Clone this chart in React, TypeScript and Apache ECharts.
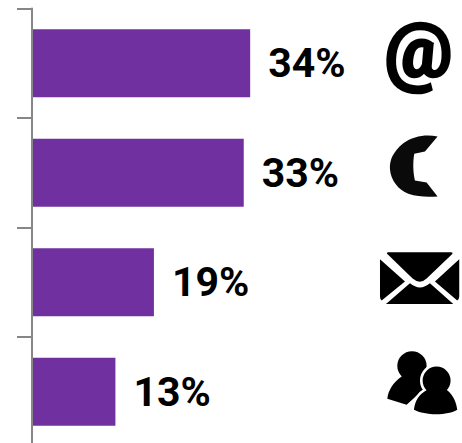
import React, { useEffect, useRef } from "react";
import * as echarts from "echarts";

const categories = ["Email", "Phone", "Mail", "In person"];
const shares = [34, 33, 19, 13];

const LABEL_FONT = 'Roboto, sans-serif';
const INK = "#000000";

// Icon outlines, drawn on a 3x local grid and scaled down when placed.
const PHONE_PATH =
  "M203 380 C170 372 130 378 100 400 C70 425 58 450 60 478 C62 510 85 540 115 552 C145 562 175 562 203 560 L170 518 L135 512 C130 490 128 460 133 432 L165 425 Z";
const ENVELOPE_PATH =
  "M55 67 L243 67 Q250 68 247 72 L170 146 Q150 165 128 146 L52 72 Q48 68 55 67 Z " +
  "M30 88 L105 155 L35 212 Q30 208 30 200 Z " +
  "M268 88 L195 155 L262 212 Q268 208 268 200 Z " +
  "M48 222 L120 160 Q150 185 180 160 L250 222 Z";
const PERSON_BACK_PATH =
  "M82 408 A44 44 0 1 1 170 408 A44 44 0 1 1 82 408 Z " +
  "M52 507 C55 480 70 458 95 440 L100 415 L150 415 L155 435 L170 470 L110 525 Z";
const PERSON_FRONT_PATH =
  "M158 452 A42 42 0 1 1 242 452 A42 42 0 1 1 158 452 Z " +
  "M132 540 C135 515 145 495 172 480 L178 460 L222 460 L230 480 C250 495 260 520 262 540 C235 558 165 558 132 540 Z";

echarts.graphic.registerShape("phoneIcon", echarts.graphic.extendPath(PHONE_PATH, {}) as any);
echarts.graphic.registerShape("envelopeIcon", echarts.graphic.extendPath(ENVELOPE_PATH, {}) as any);
echarts.graphic.registerShape("personBack", echarts.graphic.extendPath(PERSON_BACK_PATH, {}) as any);
echarts.graphic.registerShape("personFront", echarts.graphic.extendPath(PERSON_FRONT_PATH, {}) as any);

const ICON_SCALE = 1 / 3;
const iconAt = (type: string, x: number, y: number, style: object) => ({
  type,
  x,
  y,
  scaleX: ICON_SCALE,
  scaleY: ICON_SCALE,
  style,
});

export default function App() {
  const ref = useRef<HTMLDivElement>(null);

  useEffect(() => {
    document.body.style.margin = "0";
    const chart = echarts.init(ref.current!, undefined, { renderer: "svg" });
    chart.setOption({
      animation: false,
      backgroundColor: "#ffffff",
      grid: {
        left: 32,
        top: 8.5,
        width: 385,
        height: 438,
        containLabel: false,
        outerBoundsMode: "none",
      },
      xAxis: { type: "value", min: 0, max: 60, show: false },
      yAxis: {
        type: "category",
        inverse: true,
        data: categories,
        axisLine: { show: true, lineStyle: { color: "#868686", width: 2 } },
        axisTick: { show: true, length: 15, lineStyle: { color: "#868686", width: 2 } },
        axisLabel: { show: false },
        z: 5,
      },
      series: [
        {
          type: "bar",
          data: shares,
          barWidth: 68,
          itemStyle: { color: "#7030A0" },
          label: {
            show: true,
            position: "right",
            distance: 18,
            formatter: "{c}%",
            fontFamily: LABEL_FONT,
            fontWeight: "bold",
            fontSize: 41,
            color: INK,
          },
        },
      ],
      graphic: [
        {
          type: "text",
          x: 418.5,
          y: 50,
          style: {
            text: "@",
            fontFamily: LABEL_FONT,
            fontWeight: "bold",
            fontSize: 76,
            fill: INK,
            stroke: INK,
            lineWidth: 2.5,
            align: "center",
            verticalAlign: "middle",
          },
        },
        iconAt("phoneIcon", 370, 10, { fill: "#0a0a0a" }),
        iconAt("envelopeIcon", 370, 230, { fill: INK }),
        iconAt("personBack", 370, 230, { fill: INK }),
        iconAt("personFront", 370, 230, { fill: "#ffffff", stroke: "#ffffff", lineWidth: 16 }),
        iconAt("personFront", 370, 230, { fill: INK }),
      ],
    });
    return () => chart.dispose();
  }, []);

  return <div ref={ref} style={{ width: 462, height: 443 }} />;
}
